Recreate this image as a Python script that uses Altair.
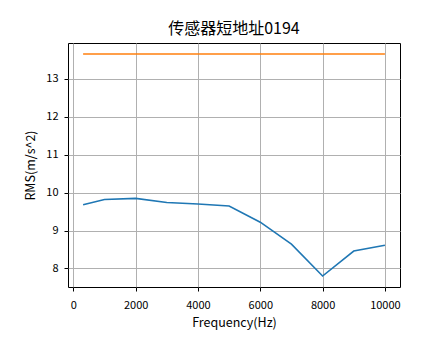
import altair as alt
import pandas as pd

freq = [315, 1000, 2000, 3000, 4000, 5000, 6000, 7000, 8000, 9000, 10000]
rms = [9.68, 9.82, 9.85, 9.74, 9.70, 9.65, 9.22, 8.64, 7.80, 8.46, 8.61]
limit_value = 13.66
series_names = ["RMS", "Limit"]
series_colors = ["#1f77b4", "#ff7f0e"]
x_ticks = [0, 2000, 4000, 6000, 8000, 10000]
y_ticks = [8, 9, 10, 11, 12, 13]

rows = []
for f, v in zip(freq, rms):
    rows.append({"freq": f, "value": v, "series": "RMS"})
for f in [freq[0], freq[-1]]:
    rows.append({"freq": f, "value": limit_value, "series": "Limit"})
df = pd.DataFrame(rows)

FONT = "Noto Sans CJK SC"

chart = alt.Chart(df).mark_line(strokeWidth=1.6).encode(
    x=alt.X("freq:Q",
            scale=alt.Scale(domain=[-170, 10484], nice=False, zero=False),
            axis=alt.Axis(values=x_ticks, title="Frequency(Hz)", format="d",
                          labelPadding=8, titlePadding=6)),
    y=alt.Y("value:Q",
            scale=alt.Scale(domain=[7.51, 13.95], nice=False, zero=False),
            axis=alt.Axis(values=y_ticks, title="RMS(m/s^2)", format="d",
                          labelPadding=6, titlePadding=8)),
    color=alt.Color("series:N", scale=alt.Scale(domain=series_names, range=series_colors), legend=None),
    detail="series:N",
).properties(
    width=332,
    height=244,
    title=alt.TitleParams("传感器短地址0194", font=FONT, fontSize=16, fontWeight="normal",
                          color="black", offset=6, anchor="middle"),
    autosize=alt.AutoSizeParams(type="none"),
    padding={"left": 60, "top": 35, "right": 36, "bottom": 64},
).configure_view(
    stroke="black", strokeWidth=1
).configure_axis(
    domain=False,
    grid=True,
    gridColor="#b0b0b0",
    gridWidth=1,
    tickColor="black",
    tickSize=4,
    tickWidth=1,
    labelFont=FONT,
    labelFontSize=11,
    labelColor="black",
    titleFont=FONT,
    titleFontSize=12.5,
    titleFontWeight="normal",
    titleColor="black",
)

chart.save("out.html", embed_options={"renderer": "svg", "actions": False})
